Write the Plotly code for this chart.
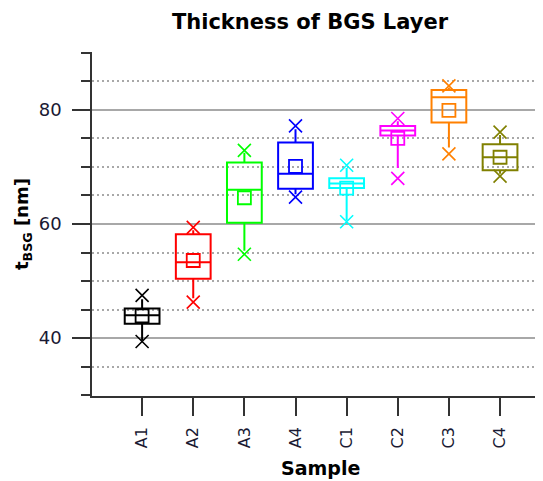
import plotly.graph_objects as go

samples = ["A1", "A2", "A3", "A4", "C1", "C2", "C3", "C4"]
q1 = [42.5, 50.4, 60.2, 66.2, 66.3, 75.5, 77.8, 69.4]
median = [44.0, 53.3, 66.0, 68.8, 67.1, 76.4, 82.2, 71.7]
q3 = [45.2, 58.2, 70.8, 74.3, 68.0, 77.2, 83.5, 74.0]
whisker_low = [39.6, 47.0, 55.3, 65.2, 60.6, 69.8, 73.4, 68.8]
whisker_high = [46.8, 58.9, 72.5, 76.6, 69.8, 78.0, 83.9, 75.6]
data_min = [39.4, 46.3, 54.7, 64.7, 60.4, 68.0, 72.3, 68.4]
data_max = [47.5, 59.4, 72.9, 77.2, 70.3, 78.5, 84.2, 76.1]
mean = [43.9, 53.6, 64.6, 70.1, 66.3, 75.0, 79.9, 71.7]
colors = ["#000000", "#FF0000", "#00FF00", "#0000FF", "#00FFFF", "#FF00FF", "#FF8000", "#808000"]

fig = go.Figure()
for i, s in enumerate(samples):
    c = colors[i]
    fig.add_trace(go.Box(
        x=[s], q1=[q1[i]], median=[median[i]], q3=[q3[i]],
        lowerfence=[whisker_low[i]], upperfence=[whisker_high[i]],
        width=0.68, whiskerwidth=0, line=dict(color=c, width=2),
        fillcolor="rgba(0,0,0,0)", boxpoints=False, showlegend=False,
    ))
    fig.add_trace(go.Scatter(
        x=[s, s], y=[data_min[i], data_max[i]], mode="markers",
        marker=dict(symbol="x-thin-open", size=13, color=c, line=dict(width=1.6, color=c)),
        showlegend=False,
    ))
    fig.add_trace(go.Scatter(
        x=[s], y=[mean[i]], mode="markers",
        marker=dict(symbol="square-open", size=13, color=c, line=dict(width=1.8, color=c)),
        showlegend=False,
    ))

font_family = "DejaVu Sans"
# page body has an 8px margin, so the figure is 8px smaller than the window
W, H = 535, 473
L, T, B = 84, 44, 85
PW, PH = W - L, H - T - B
fig.update_layout(
    width=W, height=H,
    margin=dict(l=L, r=0, t=T, b=B),
    paper_bgcolor="white", plot_bgcolor="white",
    font=dict(family=font_family, size=13, color="#1a1a33"),
    title=dict(text="<b>Thickness of BGS Layer</b>", x=(310 - 92) / PW, xref="paper",
               xanchor="center", y=1 - 14 / H, yref="container", yanchor="middle",
               font=dict(family=font_family, size=21, color="#000000")),
    xaxis=dict(
        type="category", categoryorder="array", categoryarray=samples,
        range=[-0.98, 7.84], showgrid=False, zeroline=False,
        showline=True, linecolor="#333333", linewidth=1.5,
        ticks="outside", ticklen=18, tickwidth=1.5, tickcolor="#333333",
        tickangle=-90, tickfont=dict(size=16), ticklabelstandoff=5,
    ),
    yaxis=dict(
        range=[29.85, 90.15], tick0=0, dtick=20, zeroline=False,
        showline=True, linecolor="#333333", linewidth=1.5,
        ticks="outside", ticklen=18, tickwidth=1.5, tickcolor="#333333",
        showgrid=True, gridcolor="#a8a8a8", gridwidth=1.5,
        tickfont=dict(size=18), ticklabelstandoff=7,
        minor=dict(tick0=0, dtick=5, ticks="outside", ticklen=9, tickwidth=1.5,
                   tickcolor="#333333", showgrid=True, gridcolor="#a8a8a8",
                   gridwidth=1.5, griddash="2px,3px"),
    ),
    annotations=[
        dict(text="<b>t<sub>BSG</sub> [nm]</b>", textangle=-90, xref="paper", yref="paper",
             x=(23 - 92) / PW, y=0.5, xanchor="center", yanchor="middle", showarrow=False,
             font=dict(family=font_family, size=18, color="#000000")),
        dict(text="<b>Sample</b>", xref="paper", yref="paper",
             x=(320 - 92) / PW, y=(396 - 468) / PH, xanchor="center", yanchor="middle",
             showarrow=False, font=dict(family=font_family, size=19, color="#000000")),
    ],
)

fig.write_html("out.html")
